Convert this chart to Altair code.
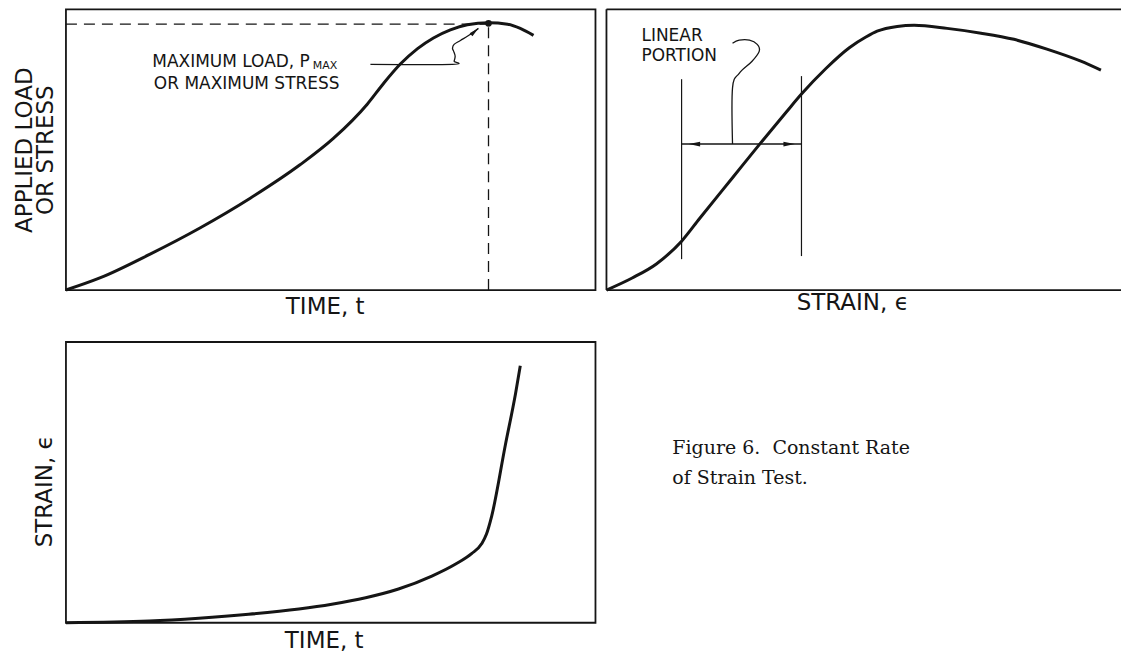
import altair as alt
import pandas as pd

FONT = "DejaVu Sans"
SERIF = "DejaVu Serif"
INK = "#151515"

# ---------------- data ----------------
# Panel A: applied load (or stress) vs time
load_t = [0, 6.4, 15.9, 25.3, 34.8, 44.2, 50.5, 56.9, 59.9, 63.1, 66.4, 69.4, 72.6, 75.8, 79.8, 83.4, 85.8, 88.3]
load_p = [0, 4.3, 12.8, 22.1, 32.7, 44.6, 54.0, 66.2, 73.4, 80.4, 86.0, 89.8, 92.7, 94.5, 95.2, 94.7, 93.2, 90.7]
peak_t = 79.8
peak_p = 95.0
dash_level = 94.7
note_a_text = ["MAXIMUM LOAD, P", "OR MAXIMUM STRESS"]
note_a_x = [16.3, 16.6]
note_a_y = [81.1, 73.3]
note_a_sub = ["MAX"]
note_a_sub_x = [46.6]
note_a_sub_y = [79.8]
lead_a_x = [57.5, 73.0, 73.3, 73.5, 73.2, 73.0, 73.3, 74.5, 76.4, 77.9]
lead_a_y = [80.4, 80.4, 81.5, 83.3, 85.1, 86.1, 87.5, 88.9, 91.1, 93.2]
arrow_a_x = [77.2]
arrow_a_y = [92.1]

# Panel B: load vs strain
strain_x = [0, 5.0, 9.7, 14.6, 18.1, 24.5, 29.7, 35.0, 37.9, 42.7, 47.2, 50.5, 52.6, 56.5, 59.8, 66.2, 72.8, 79.2, 85.6, 92.2, 96.1]
strain_y = [0, 4.3, 9.3, 17.4, 25.5, 40.0, 51.8, 63.5, 69.8, 79.0, 86.3, 90.2, 92.2, 93.9, 94.3, 93.2, 91.5, 89.3, 85.8, 81.5, 78.3]
lin_x = [14.6, 37.9]
lin_lo = [11.0, 12.1]
lin_hi = [75.1, 76.2]
lin_arrow_y = 52.0
lin_head_x = [17.1, 35.5]
lead_b_x = [24.5, 24.5, 25.8, 28.3, 29.7, 29.3, 27.8, 25.8, 24.5]
lead_b_y = [52.0, 72.0, 77.2, 81.5, 85.1, 87.5, 89.0, 89.0, 87.9]
note_b_text = ["LINEAR", "PORTION"]
note_b_x = [6.8, 6.8]
note_b_y = [90.4, 83.3]

# Panel C: strain vs time
creep_t = [0, 15.7, 25.1, 34.5, 44.0, 50.2, 56.6, 62.8, 69.1, 73.6, 76.6, 78.5, 79.4, 80.4, 83.0, 84.9, 85.8]
creep_s = [0, 0.6, 1.6, 3.0, 4.9, 6.6, 8.9, 12.0, 16.6, 20.9, 24.6, 28.1, 31.5, 38.0, 63.5, 81.6, 91.5]

# Caption
caption_lines = ["Figure 6.\u00a0 Constant Rate", "of Strain Test."]
caption_x = [12.8, 12.8]
caption_y = [62.3, 51.6]


# ---------------- helpers ----------------
def sc():
    return alt.Scale(domain=[0, 100], nice=False, zero=False)


def axis_x(title, tx, ty):
    return alt.Axis(title=title, labels=False, ticks=False, domain=False, grid=False,
                    titleFont=FONT, titleFontSize=23, titleFontWeight="normal", titleColor=INK,
                    titleX=tx, titleY=ty, titleAlign="center", titleBaseline="middle", titleAngle=0)


def axis_y(title, tx, ty):
    return alt.Axis(title=title, labels=False, ticks=False, domain=False, grid=False,
                    titleFont=FONT, titleFontSize=23, titleFontWeight="normal", titleColor=INK,
                    titleX=tx, titleY=ty, titleAlign="center", titleBaseline="middle",
                    titleAngle=270, titleLineHeight=21)


def make_enc(xa, ya):
    def enc(xf="x", yf="y"):
        return dict(x=alt.X(f"{xf}:Q", scale=sc(), axis=xa), y=alt.Y(f"{yf}:Q", scale=sc(), axis=ya))
    return enc


HEAD_RIGHT = "M 1 0 L -1 -0.42 L -1 0.42 Z"
HEAD_LEFT = "M -1 0 L 1 -0.42 L 1 0.42 Z"

# ---------------- panel A ----------------
encA = make_enc(axis_x("TIME, t", 259, 16), axis_y(["APPLIED LOAD", "OR STRESS"], -41, 140.5))

a_curve = alt.Chart(pd.DataFrame({"x": load_t, "y": load_p})).mark_line(
    interpolate="monotone", strokeWidth=3, color=INK).encode(**encA())
a_dash_h = alt.Chart(pd.DataFrame({"x": [0], "x2": [peak_t], "y": [dash_level]})).mark_rule(
    strokeDash=[11, 7], strokeWidth=1.3, color=INK).encode(**encA(), x2="x2:Q")
a_dash_v = alt.Chart(pd.DataFrame({"x": [peak_t], "y": [0], "y2": [dash_level]})).mark_rule(
    strokeDash=[11, 7], strokeWidth=1.3, color=INK).encode(**encA(), y2="y2:Q")
a_dot = alt.Chart(pd.DataFrame({"x": [peak_t], "y": [peak_p]})).mark_circle(
    size=45, color=INK, opacity=1).encode(**encA())
a_text = alt.Chart(pd.DataFrame({"x": note_a_x, "y": note_a_y, "t": note_a_text})).mark_text(
    align="left", baseline="middle", font=FONT, fontSize=17, color=INK).encode(**encA(), text="t:N")
a_sub = alt.Chart(pd.DataFrame({"x": note_a_sub_x, "y": note_a_sub_y, "t": note_a_sub})).mark_text(
    align="left", baseline="middle", font=FONT, fontSize=11, color=INK).encode(**encA(), text="t:N")
a_lead = alt.Chart(pd.DataFrame({"x": lead_a_x, "y": lead_a_y, "o": list(range(len(lead_a_x)))})).mark_line(
    interpolate="cardinal", strokeWidth=1.3, color=INK).encode(**encA(), order="o:Q")
a_head = alt.Chart(pd.DataFrame({"x": arrow_a_x, "y": arrow_a_y})).mark_point(
    shape=HEAD_RIGHT, angle=318, filled=True, size=100, color=INK, opacity=1).encode(**encA())

panelA = alt.layer(a_curve, a_dash_h, a_dash_v, a_dot, a_text, a_sub, a_lead, a_head).properties(
    width=530, height=281)

# ---------------- panel B ----------------
encB = make_enc(axis_x("STRAIN, \u03f5", 246, 12), None)

b_frame = alt.Chart(pd.DataFrame({"x": [0, 0, 0], "x2": [0, 100, 100],
                                  "y": [0, 100, 0], "y2": [100, 100, 0]})).mark_rule(
    strokeWidth=1.8, color=INK).encode(**encB(), x2="x2:Q", y2="y2:Q")
b_curve = alt.Chart(pd.DataFrame({"x": strain_x, "y": strain_y})).mark_line(
    interpolate="monotone", strokeWidth=3, color=INK).encode(**encB())
b_lin = alt.Chart(pd.DataFrame({"x": lin_x, "y": lin_lo, "y2": lin_hi})).mark_rule(
    strokeWidth=1.2, color=INK).encode(**encB(), y2="y2:Q")
b_arrow = alt.Chart(pd.DataFrame({"x": [lin_x[0]], "x2": [lin_x[1]], "y": [lin_arrow_y]})).mark_rule(
    strokeWidth=1.6, color=INK).encode(**encB(), x2="x2:Q")
b_head_l = alt.Chart(pd.DataFrame({"x": [lin_head_x[0]], "y": [lin_arrow_y]})).mark_point(
    shape=HEAD_LEFT, filled=True, size=130, color=INK, opacity=1).encode(**encB())
b_head_r = alt.Chart(pd.DataFrame({"x": [lin_head_x[1]], "y": [lin_arrow_y]})).mark_point(
    shape=HEAD_RIGHT, filled=True, size=130, color=INK, opacity=1).encode(**encB())
b_lead = alt.Chart(pd.DataFrame({"x": lead_b_x, "y": lead_b_y, "o": list(range(len(lead_b_x)))})).mark_line(
    interpolate="cardinal", strokeWidth=1.3, color=INK).encode(**encB(), order="o:Q")
b_text = alt.Chart(pd.DataFrame({"x": note_b_x, "y": note_b_y, "t": note_b_text})).mark_text(
    align="left", baseline="middle", font=FONT, fontSize=17, color=INK).encode(**encB(), text="t:N")

panelB = alt.layer(b_frame, b_curve, b_lin, b_arrow, b_head_l, b_head_r, b_lead, b_text).properties(
    width=515, height=281, view=alt.ViewBackground(strokeOpacity=0))

# ---------------- panel C ----------------
encC = make_enc(axis_x("TIME, t", 258, 18), axis_y("STRAIN, \u03f5", -21, 149))

c_curve = alt.Chart(pd.DataFrame({"x": creep_t, "y": creep_s})).mark_line(
    interpolate="monotone", strokeWidth=3, color=INK).encode(**encC())
panelC = alt.layer(c_curve).properties(width=530, height=281)

# ---------------- caption ----------------
encD = make_enc(None, None)
caption = alt.Chart(pd.DataFrame({"x": caption_x, "y": caption_y, "t": caption_lines})).mark_text(
    align="left", baseline="middle", font=SERIF, fontSize=19, color=INK).encode(**encD(), text="t:N").properties(
    width=515, height=281, view=alt.ViewBackground(strokeOpacity=0))

chart = alt.ConcatChart(
    concat=[panelA, panelB, panelC, caption],
    columns=2,
    spacing=alt.RowColnumber(row=52, column=11),
    bounds="flush",
).properties(
    padding={"left": 5, "top": 0, "right": 0, "bottom": 0}
).configure_view(stroke=INK, strokeWidth=1.8)

chart.save("out.html", embed_options={"renderer": "svg", "actions": False})
